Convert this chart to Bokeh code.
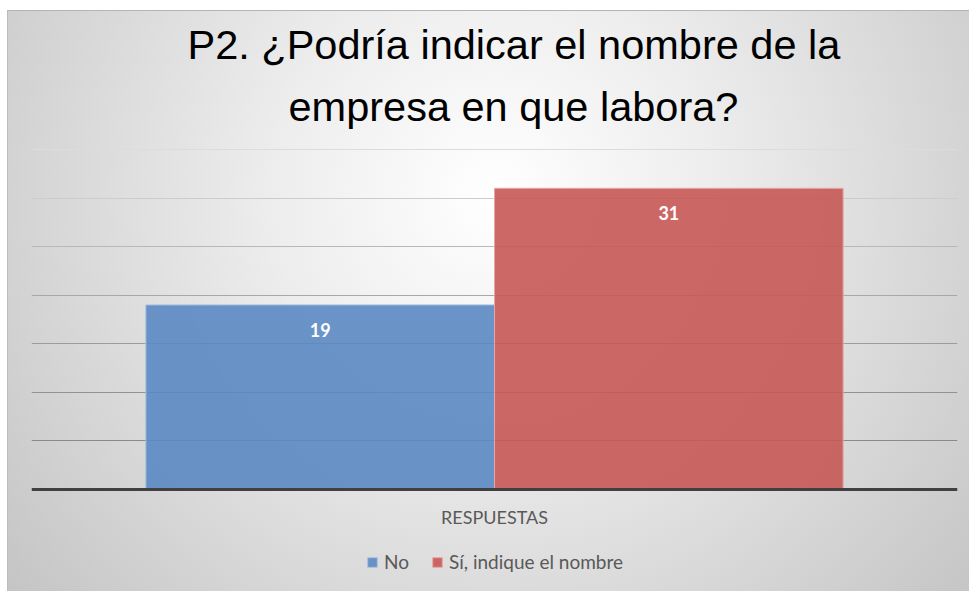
from bokeh.plotting import figure
from bokeh.models import FactorRange, Range1d, Title, Legend, LegendItem, FixedTicker, Grid, ColumnDataSource, Span
from bokeh.transform import dodge
from bokeh.core.properties import value
from bokeh.embed import file_html
from bokeh.resources import INLINE

# ---- data ----
categories = ["RESPUESTAS"]
series_names = ["No", "Sí, indique el nombre"]
no_values = [19]
si_values = [31]
title_line1 = "P2. ¿Podría indicar el nombre de la"
title_line2 = "empresa en que labora?"
grid_ticks = [5, 10, 15, 20, 25, 30, 35]

src = ColumnDataSource(dict(
    cat=categories,
    no=no_values,
    si=si_values,
    no_lbl=[str(v) for v in no_values],
    si_lbl=[str(v) for v in si_values],
))

p = figure(
    x_range=FactorRange(factors=categories, range_padding=0),
    y_range=Range1d(-10.5, 35.2),
    width=969, height=591,
    output_backend="svg", toolbar_location=None,
    min_border_left=31, min_border_right=12,
    min_border_top=147, min_border_bottom=0,
)
p.background_fill_alpha = 0
p.border_fill_alpha = 0
p.outline_line_color = None
p.styles = {
    "background": (
        "linear-gradient(#ffffff,#ffffff) 0 0/100% 10px no-repeat, "
        "linear-gradient(#ffffff,#ffffff) 0 0/7px 100% no-repeat, "
        "linear-gradient(#b4b4b4,#b4b4b4) 7px 10px/100% 1px no-repeat, "
        "linear-gradient(#bcbcbc,#bcbcbc) 7px 10px/1px 100% no-repeat, "
        "radial-gradient(circle farthest-corner at 51% 33%, #ffffff 0%, #ededed 35%, #c4c4c4 100%)"
    )
}

# grid lines (lighter at the top, darker near the base)
p.xgrid.visible = False
p.ygrid.visible = False
grid_colors = ["#8a8a8a", "#929292", "#9c9c9c", "#a8a8a8", "#b8b8b8", "#cccccc", "#dcdcdc"]
for t, c in zip(grid_ticks, grid_colors):
    p.add_layout(Grid(dimension=1, ticker=FixedTicker(ticks=[t]), grid_line_color=c, grid_line_width=1))

bw = 0.3765
r_no = p.vbar(x=dodge("cat", -bw / 2, range=p.x_range), top="no", bottom=0, width=bw, source=src,
              fill_color="#5b8ac2", fill_alpha=0.9, line_color="#a9c2e2", line_width=1)
r_si = p.vbar(x=dodge("cat", bw / 2, range=p.x_range), top="si", bottom=0, width=bw, source=src,
              fill_color="#c65955", fill_alpha=0.9, line_color="#e6a8a6", line_width=1)

# category baseline
p.add_layout(Span(location=0, dimension="width", line_color="#404040", line_width=3))

# value labels
for col, lbl, off in (("no", "no_lbl", -bw / 2), ("si", "si_lbl", bw / 2)):
    p.text(x=dodge("cat", off, range=p.x_range), y=col, text=lbl, source=src,
           y_offset=25, text_align="center", text_baseline="middle",
           text_color="white", text_font_style="bold", text_font=value("Lato"),
           text_font_size="18px")

# category label under the baseline
p.text(x="cat", y=0, text="cat", source=src, y_offset=28,
       text_align="center", text_baseline="middle", text_color="#595959",
       text_font=value("Lato"), text_font_size="18px")

p.xaxis.visible = False
p.yaxis.visible = False

# titles (p.title is the outer line, the added one sits next to the frame)
p.title.text = title_line1
p.title.align = "left"
p.title.offset = 156
p.title.text_font = "Liberation Sans"
p.title.text_font_size = "41.5px"
p.title.text_font_style = "normal"
p.title.text_color = "black"
p.title.standoff = -9
t2 = Title(text=title_line2, align="left", offset=257, text_font="Liberation Sans",
           text_font_size="41.5px", text_font_style="normal", text_color="black",
           standoff=35)
p.add_layout(t2, "above")

# legend, placed below the baseline inside the frame
legend = Legend(items=[LegendItem(label=series_names[0], renderers=[r_no]),
                       LegendItem(label=series_names[1], renderers=[r_si])],
                orientation="horizontal", location=(335, 18),
                glyph_width=12, glyph_height=12, label_standoff=6, spacing=22,
                label_text_font="Lato", label_text_font_size="19px", label_text_color="#595959",
                border_line_color=None, background_fill_alpha=0, margin=0, padding=4)
p.add_layout(legend, "center")

open("out.html", "w").write(file_html(p, INLINE))
